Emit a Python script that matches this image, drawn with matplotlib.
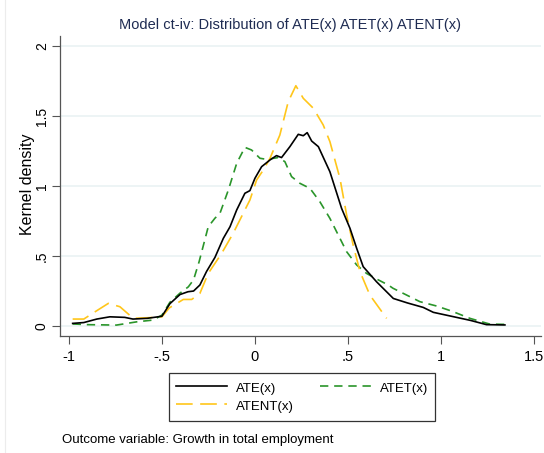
import matplotlib
matplotlib.use("Agg")
import matplotlib.pyplot as plt
from matplotlib.lines import Line2D

plt.rcParams['font.family'] = ['Liberation Sans', 'DejaVu Sans']

# Kernel density estimates of the treatment-effect distributions
ate_x = [-0.98, -0.92, -0.85, -0.78, -0.70, -0.656, -0.58, -0.50, -0.457, -0.403,
         -0.36, -0.33, -0.296, -0.26, -0.215, -0.17, -0.134, -0.098, -0.054, -0.027,
         0.0, 0.036, 0.081, 0.116, 0.143, 0.188, 0.233, 0.26, 0.281, 0.305,
         0.341, 0.403, 0.466, 0.511, 0.547, 0.582, 0.654, 0.744, 0.82, 0.905,
         0.959, 1.084, 1.16, 1.245, 1.344]
ate_y = [0.019, 0.025, 0.05, 0.066, 0.062, 0.05, 0.055, 0.07, 0.16, 0.225,
         0.245, 0.25, 0.293, 0.39, 0.49, 0.626, 0.709, 0.829, 0.948, 0.967,
         1.055, 1.138, 1.186, 1.217, 1.203, 1.281, 1.369, 1.359, 1.381, 1.321,
         1.281, 1.102, 0.84, 0.698, 0.555, 0.424, 0.316, 0.197, 0.165, 0.133,
         0.098, 0.062, 0.04, 0.01, 0.008]

atet_x = [-0.98, -0.90, -0.744, -0.636, -0.547, -0.50, -0.457, -0.403, -0.358, -0.33,
          -0.30, -0.251, -0.215, -0.188, -0.143, -0.098, -0.054, -0.018, 0.027, 0.063,
          0.125, 0.161, 0.197, 0.242, 0.296, 0.349, 0.403, 0.448, 0.493, 0.547,
          0.60, 0.654, 0.717, 0.742, 0.887, 0.977, 1.057, 1.156, 1.263, 1.344]
atet_y = [0.015, 0.01, 0.007, 0.03, 0.043, 0.078, 0.17, 0.235, 0.28, 0.33,
          0.46, 0.709, 0.77, 0.805, 0.971, 1.162, 1.276, 1.257, 1.198, 1.19,
          1.203, 1.174, 1.067, 1.019, 0.983, 0.888, 0.769, 0.65, 0.531, 0.436,
          0.376, 0.336, 0.293, 0.27, 0.174, 0.143, 0.107, 0.055, 0.014, 0.012]

atent_x = [-0.98, -0.92, -0.85, -0.788, -0.726, -0.654, -0.565, -0.50, -0.46, -0.385,
           -0.34, -0.296, -0.251, -0.179, -0.117, -0.063, -0.027, 0.009, 0.045, 0.081,
           0.134, 0.179, 0.22, 0.26, 0.314, 0.367, 0.403, 0.457, 0.493, 0.528,
           0.565, 0.618, 0.708]
atent_y = [0.05, 0.05, 0.11, 0.162, 0.138, 0.055, 0.06, 0.066, 0.13, 0.19,
           0.19, 0.233, 0.376, 0.519, 0.662, 0.805, 0.9, 1.043, 1.114, 1.198,
           1.364, 1.602, 1.716, 1.626, 1.555, 1.436, 1.317, 1.055, 0.793, 0.579,
           0.388, 0.221, 0.055]

x_ticks = [-1, -0.5, 0, 0.5, 1, 1.5]
x_labels = ["-1", "-.5", "0", ".5", "1", "1.5"]
y_ticks = [0, 0.5, 1, 1.5, 2]
y_labels = ["0", ".5", "1", "1.5", "2"]

series_names = ["ATE(x)", "ATET(x)", "ATENT(x)"]

c_ate = "#000000"
c_atet = "#2a952a"
c_atent = "#ffc61a"
grid_c = "#eaf2f3"
axis_c = "#555555"

fig = plt.figure(figsize=(5.44, 4.53), dpi=100)
fig.patch.set_facecolor("white")
ax = fig.add_axes([60 / 544, 117 / 453, 481 / 544, 300 / 453])

ax.plot(ate_x, ate_y, color=c_ate, lw=1.2, zorder=4)
ax.plot(atet_x, atet_y, color=c_atet, lw=1.2, dashes=(5, 3.5), zorder=3)
ax.plot(atent_x, atent_y, color=c_atent, lw=1.2, dashes=(10, 4.5), zorder=3)

ax.set_xlim(-1.048, 1.538)
ax.set_ylim(-0.071, 2.071)
ax.set_xticks(x_ticks)
ax.set_xticklabels(x_labels)
ax.set_yticks(y_ticks)
ax.set_yticklabels(y_labels, rotation=90, va="center")
ax.tick_params(axis="both", direction="out", length=6, width=0.8,
               color=axis_c, labelcolor="black")
ax.tick_params(axis="x", labelsize=10.5, pad=4)
ax.tick_params(axis="y", labelsize=10, pad=2)
ax.yaxis.grid(True, color=grid_c, lw=1.2)
ax.set_axisbelow(True)
for side in ("top", "right"):
    ax.spines[side].set_visible(False)
for side in ("left", "bottom"):
    ax.spines[side].set_color(axis_c)
    ax.spines[side].set_linewidth(0.9)
ax.set_ylabel("Kernel density", fontsize=11.5)
ax.yaxis.set_label_coords(-0.053, 0.507)

fig.text(290 / 544, 1 - 25 / 453,
         "Model ct-iv: Distribution of ATE(x) ATET(x) ATENT(x)",
         ha="center", va="center", fontsize=10.5, color="#1e2b52")

handles = [
    Line2D([], [], color=c_ate, lw=1.2),
    Line2D([], [], color=c_atent, lw=1.2, dashes=(10, 4.5)),
    Line2D([], [], color=c_atet, lw=1.2, dashes=(5, 3.5)),
]
labels = [series_names[0], series_names[2], series_names[1]]
leg = fig.legend(handles, labels, ncol=2, loc="upper center",
                 bbox_to_anchor=(302 / 544, 1 - 373 / 453),
                 frameon=True, fancybox=False, edgecolor="black",
                 fontsize=9.5, handlelength=3.9, handleheight=1.55,
                 columnspacing=2.0, handletextpad=0.66, borderpad=0.5,
                 labelspacing=0.1, borderaxespad=0.0)
leg.get_frame().set_linewidth(0.9)

fig.text(62 / 544, 1 - 440 / 453,
         "Outcome variable: Growth in total employment",
         ha="left", va="center", fontsize=9.5)

fig.add_artist(Line2D([5 / 544, 5 / 544], [0, 1], color="#ececec", lw=0.8))

fig.savefig("out.png", dpi=100, facecolor="white")
